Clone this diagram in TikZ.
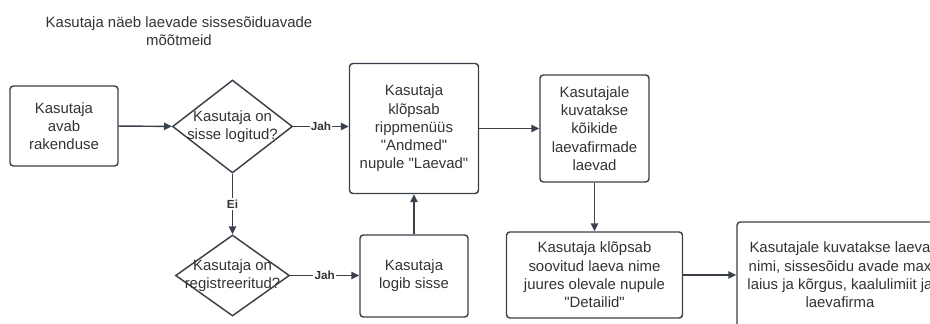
\documentclass[tikz,border=0pt]{standalone}
\usepackage{fontspec}
\setmainfont{Liberation Sans}
\usetikzlibrary{shapes.geometric,arrows.meta}
\definecolor{joon}{HTML}{3A414A}
\definecolor{tekst}{HTML}{333333}
\newcommand{\jm}{\textquotedbl}
\tikzset{
    samm/.style={draw=joon, line width=1.1pt, rounded corners=2.5pt, align=center,
        text=tekst, inner sep=0pt, font=\fontsize{11.2}{13.7}\selectfont},
    otsus/.style={diamond, draw=joon, line width=1.1pt, inner sep=0pt},
    otsustekst/.style={align=center, text=tekst, font=\fontsize{11.2}{13.7}\selectfont},
    nool/.style={draw=joon, line width=1.1pt, -{Triangle[length=6pt,width=5.5pt]}},
    silt/.style={fill=white, text=tekst, inner sep=1pt, font=\bfseries\fontsize{8.8}{9.5}\selectfont}
}
\begin{document}
\begin{tikzpicture}[x=0.75pt,y=-0.75pt]
        %画边界
        \useasboundingbox (0,0) rectangle (930,324);
        \clip (0,0) rectangle (930,324);
        %标题
        \node[otsustekst] (pealkiri) at (179,31) {Kasutaja näeb laevade sissesõiduavade\\mõõtmeid};
        %画步骤框
        \node[samm, minimum width=81pt, minimum height=60pt] (avab) at (64,126)
            {Kasutaja\\avab\\rakenduse};
        \node[samm, minimum width=96.75pt, minimum height=97.5pt] (klopsab) at (414,128.5)
            {Kasutaja\\klõpsab\\rippmenüüs\\\jm Andmed\jm\\nupule \jm Laevad\jm};
        \node[samm, minimum width=81pt, minimum height=61.5pt] (logib) at (414,276)
            {Kasutaja\\logib sisse};
        \node[samm, minimum width=81.75pt, minimum height=80.25pt] (laevad) at (594.5,128.5)
            {Kasutajale\\kuvatakse\\kõikide\\laevafirmade\\laevad};
        \node[samm, minimum width=132pt, minimum height=64.5pt] (detailid) at (594.5,275)
            {Kasutaja klõpsab\\soovitud laeva nime\\juures olevale nupule\\\jm Detailid\jm};
        \node[samm, minimum width=154.5pt, minimum height=79.5pt] (moodud) at (840,275)
            {Kasutajale kuvatakse laeva\\nimi, sissesõidu avade max\\laius ja kõrgus, kaalulimiit ja\\laevafirma};
        %画判断框
        \node[otsus, minimum width=90pt, minimum height=69.75pt,
            label={[otsustekst]center:Kasutaja on\\sisse logitud?}] (sees) at (232.5,126.5) {};
        \node[otsus, minimum width=85.5pt, minimum height=60.75pt,
            label={[otsustekst]center:Kasutaja on\\registreeritud?}] (reg) at (232.5,275.5) {};
        %画箭头
        \draw[nool] (avab) -- (sees);
        \draw[nool] (sees.east) -- node[silt]{Jah} (sees.east -| klopsab.west);
        \draw[nool] (sees) -- node[silt]{Ei} (reg);
        \draw[nool] (reg.east) -- node[silt]{Jah} (reg.east -| logib.west);
        \foreach \a/\b in {logib/klopsab,klopsab/laevad,laevad/detailid}
            \draw[nool] (\a) -- (\b);
        \draw[nool] (detailid.east) -- (detailid.east -| moodud.west);
\end{tikzpicture}
\end{document}
